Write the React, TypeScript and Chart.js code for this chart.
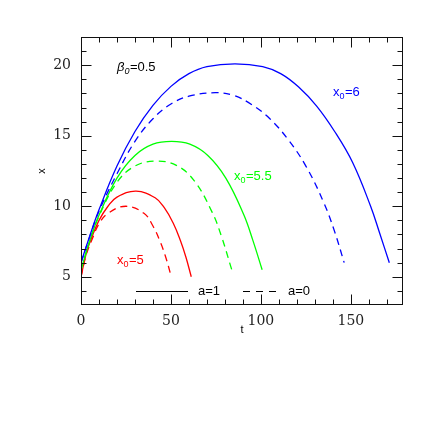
import React, { useEffect, useRef } from "react";
import { Chart, registerables } from "chart.js";

Chart.register(...registerables);

// ---- data (t, x) ----
const blueSolidT = [0, 5, 10, 20, 30, 40, 50, 60, 70, 85.6, 101, 111, 121, 131, 141, 151, 161, 166, 171.4];
const blueSolidX = [6, 7.95, 9.75, 12.85, 15.3, 17.15, 18.5, 19.4, 19.9, 20.1, 19.9, 19.4, 18.45, 17.1, 15.3, 13.1, 10.0, 8.1, 6.0];

const blueDashT = [0, 5, 10, 20, 30, 40, 50, 60, 74.6, 85, 95, 105, 115, 125, 135, 141, 146.3];
const blueDashX = [6, 7.9, 9.65, 12.3, 14.6, 16.2, 17.25, 17.8, 18.05, 17.85, 17.2, 16.2, 14.75, 12.85, 10.25, 8.2, 6.0];

const greenSolidT = [0, 5, 10, 20, 30, 40, 50.4, 60.5, 70.5, 80.5, 90.5, 95.5, 100.7];
const greenSolidX = [5.5, 7.6, 9.36, 12.0, 13.6, 14.4, 14.6, 14.4, 13.6, 12.0, 9.4, 7.6, 5.5];

const greenDashT = [0, 5, 10, 20, 30, 41.5, 53, 63, 73, 78, 83.8];
const greenDashX = [5.5, 7.6, 9.3, 11.7, 12.85, 13.2, 12.9, 11.8, 9.55, 7.9, 5.5];

const redSolidT = [0, 3, 6, 10, 15, 20, 30.6, 41.2, 46.3, 51.3, 55.3, 58.3, 61.3];
const redSolidX = [5, 6.7, 7.8, 9.0, 10.0, 10.65, 11.07, 10.6, 9.9, 8.8, 7.55, 6.4, 5.0];

const redDashT = [0, 3, 6, 10, 15, 25, 35, 40, 44, 47.2, 50.2];
const redDashX = [5, 6.6, 7.6, 8.75, 9.5, 10.0, 9.5, 8.6, 7.5, 6.35, 5.0];

const xMajorTicks = [0, 50, 100, 150];
const yMajorTicks = [5, 10, 15, 20];
const xMinorStep = 10;
const yMinorStep = 1;

const T_MIN = 0;
const T_MAX = 179;
const X_MIN = 3;
const X_MAX = 22;

const BLUE = "#0000ff";
const GREEN = "#00ff00";
const RED = "#ff0000";

const toPts = (t: number[], x: number[]) => t.map((v, i) => ({ x: v, y: x[i] }));

const SANS = "Helvetica, 'Liberation Sans', Arial, sans-serif";
const TICKFONT = "'DejaVu Serif', serif";

function drawSubLabel(ctx: CanvasRenderingContext2D, x: number, y: number, main: string, sub: string, rest: string, color: string, italic = false) {
  ctx.fillStyle = color;
  ctx.textBaseline = "alphabetic";
  ctx.textAlign = "left";
  const it = italic ? "italic " : "";
  ctx.font = `${it}13px ${SANS}`;
  ctx.fillText(main, x, y);
  let cx = x + ctx.measureText(main).width;
  ctx.font = `${it}9px ${SANS}`;
  ctx.fillText(sub, cx, y + 3);
  cx += ctx.measureText(sub).width + 0.5;
  ctx.font = `13px ${SANS}`;
  ctx.fillText(rest, cx, y);
}

const decorations = {
  id: "decorations",
  afterDraw(chart: any) {
    const { ctx, chartArea } = chart;
    const { left, right, top, bottom } = chartArea;
    const xs = chart.scales.x;
    const ys = chart.scales.y;
    ctx.save();
    ctx.strokeStyle = "#111";
    ctx.lineWidth = 1;
    const L = Math.round(left) + 0.5;
    const R = Math.round(right) - 0.5;
    const T = Math.round(top) + 0.5;
    const B = Math.round(bottom) - 0.5;
    ctx.strokeRect(L, T, R - L, B - T);

    ctx.beginPath();
    for (let v = T_MIN; v <= T_MAX + 1e-9; v += xMinorStep) {
      const p = Math.round(xs.getPixelForValue(v)) + 0.5;
      const len = xMajorTicks.includes(v) ? 10 : 5;
      ctx.moveTo(p, B);
      ctx.lineTo(p, B - len);
      ctx.moveTo(p, T);
      ctx.lineTo(p, T + len);
    }
    for (let v = Math.ceil(X_MIN); v <= X_MAX + 1e-9; v += yMinorStep) {
      if (v <= X_MIN || v >= X_MAX) continue;
      const p = Math.round(ys.getPixelForValue(v)) + 0.5;
      const len = yMajorTicks.includes(v) ? 10 : 5;
      ctx.moveTo(L, p);
      ctx.lineTo(L + len, p);
      ctx.moveTo(R, p);
      ctx.lineTo(R - len, p);
    }
    ctx.stroke();

    // annotations
    drawSubLabel(ctx, left + 36, top + 34, "\u03B2", "0", "=0.5", "#000", true);
    drawSubLabel(ctx, left + 252, top + 59, "x", "0", "=6", BLUE);
    drawSubLabel(ctx, left + 153, top + 143, "x", "0", "=5.5", GREEN);
    drawSubLabel(ctx, left + 36, top + 227, "x", "0", "=5", RED);

    // legend
    const ly = Math.round(bottom - 14) + 0.5;
    ctx.strokeStyle = "#000";
    ctx.lineWidth = 1.2;
    ctx.beginPath();
    ctx.moveTo(left + 55, ly);
    ctx.lineTo(left + 107, ly);
    ctx.stroke();
    ctx.setLineDash([7, 6]);
    ctx.beginPath();
    ctx.moveTo(left + 162, ly);
    ctx.lineTo(left + 198, ly);
    ctx.stroke();
    ctx.setLineDash([]);
    ctx.fillStyle = "#000";
    ctx.font = `13px ${SANS}`;
    ctx.textBaseline = "middle";
    ctx.textAlign = "left";
    ctx.fillText("a=1", left + 117, ly);
    ctx.fillText("a=0", left + 207, ly);

    // axis titles
    ctx.font = `11px ${SANS}`;
    ctx.textAlign = "center";
    ctx.textBaseline = "middle";
    ctx.fillText("t", (left + right) / 2 + 0, bottom + 25);
    ctx.save();
    ctx.translate(left - 39, (top + bottom) / 2);
    ctx.rotate(-Math.PI / 2);
    ctx.fillText("x", 0, 0);
    ctx.restore();
    ctx.restore();
  },
};

export default function App() {
  const ref = useRef<HTMLCanvasElement | null>(null);
  useEffect(() => {
    if (!ref.current) return;
    const solid = (t: number[], x: number[], c: string) => ({
      data: toPts(t, x),
      borderColor: c,
      borderWidth: 1.3,
      pointRadius: 0,
      fill: false,
      tension: 0.4,
    });
    const dashed = (t: number[], x: number[], c: string) => ({
      ...solid(t, x, c),
      borderDash: [7, 5],
    });
    const chart = new Chart(ref.current, {
      type: "line",
      data: {
        datasets: [
          solid(blueSolidT, blueSolidX, BLUE),
          dashed(blueDashT, blueDashX, BLUE),
          solid(greenSolidT, greenSolidX, GREEN),
          dashed(greenDashT, greenDashX, GREEN),
          solid(redSolidT, redSolidX, RED),
          dashed(redDashT, redDashX, RED),
        ],
      },
      options: {
        animation: false,
        responsive: false,
        devicePixelRatio: 1,
        layout: { padding: { top: 37, right: 37, left: 0, bottom: 0 } },
        plugins: { legend: { display: false }, tooltip: { enabled: false } },
        scales: {
          x: {
            type: "linear",
            min: T_MIN,
            max: T_MAX,
            grid: { display: false, drawTicks: false },
            border: { display: false },
            afterBuildTicks: (s: any) => {
              s.ticks = xMajorTicks.map((v) => ({ value: v }));
            },
            afterFit: (s: any) => {
              s.height = 135;
            },
            ticks: {
              padding: 8,
              maxRotation: 0,
              color: "#222",
              font: { family: TICKFONT, size: 14 },
            },
          },
          y: {
            type: "linear",
            min: X_MIN,
            max: X_MAX,
            grid: { display: false, drawTicks: false },
            border: { display: false },
            afterBuildTicks: (s: any) => {
              s.ticks = yMajorTicks.map((v) => ({ value: v }));
            },
            afterFit: (s: any) => {
              s.width = 81;
            },
            ticks: {
              padding: 10,
              color: "#222",
              font: { family: TICKFONT, size: 14 },
            },
          },
        },
      },
      plugins: [decorations],
    });
    return () => chart.destroy();
  }, []);
  return (
    <div style={{ position: "absolute", left: 0, top: 0, width: 440, height: 440 }}>
      <canvas ref={ref} width={440} height={440} />
    </div>
  );
}
